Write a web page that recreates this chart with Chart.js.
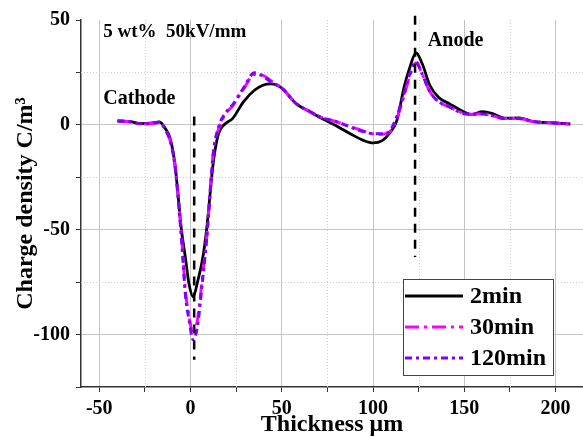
<!DOCTYPE html>
<html>
<head>
<meta charset="utf-8">
<script src="https://cdn.jsdelivr.net/npm/chart.js@4/dist/chart.umd.min.js"></script>
<style>
  html, body { margin: 0; padding: 0; background: #fff; }
  #wrap { width: 583px; height: 437px; position: relative; }
</style>
</head>
<body>
<div id="wrap"><canvas id="myChart"></canvas></div>
<script>
// thickness (um)
const thickness = [-40, -33, -27, -22, -17, -14, -11, -8.5, -5, -2.7, -1, 1.5, 3.8, 6.6, 8.8, 12.6, 15.4, 19, 23, 29, 35, 40, 44, 50, 58, 65, 72, 80, 88, 95, 100, 105, 109, 113, 117, 120, 123.5, 127, 131, 136, 142, 148, 154, 160, 165, 172, 180, 188, 198, 208];

const min2 = [1.8, 1.5, 0.6, 0.8, 1.4, -1.5, -7, -19, -50, -64, -75, -82, -75, -64, -50, -17, -4, 0.5, 3, 11, 16.5, 19, 19.5, 17.5, 10, 6.5, 3, -0.5, -4.5, -7.5, -8.6, -7.5, -4, 2, 18, 27, 34.3, 29, 19, 13, 10, 7, 5, 6.3, 5.5, 3.2, 3.3, 1.5, 1, 0.4];

const min30 = [2, 1.4, 0.4, 0.6, 1.2, -2, -8, -19, -52, -80, -90, -100, -93, -72, -54, -12, -2, 5, 9, 17, 24, 23.5, 21, 17.5, 10, 6.5, 3.5, 1.5, -1, -3, -4.3, -4.5, -3.5, 3, 14, 23, 29.5, 24, 16, 11, 8.5, 6, 5, 5.3, 4.5, 3, 3, 1.5, 1, 0.3];

const min120 = [2, 1.5, 0.5, 0.6, 1.2, -2, -8, -20, -54, -82, -92, -102.5, -96, -74, -55, -13, -1, 5.5, 9.5, 17.5, 24.8, 23, 20.5, 17.5, 10, 6.5, 3.5, 1.5, -1.2, -3.3, -4.2, -4.2, -3, 4, 15, 24, 30, 24, 16, 11, 8.5, 5.8, 5, 5.2, 4.5, 3, 3, 1.5, 1, 0.4];

const xTicks = [-50, -25, 0, 25, 50, 75, 100, 125, 150, 175, 200];
const yTicks = [-125, -100, -75, -50, -25, 0, 25, 50];

// electrode markers: [x, yFrom, yTo]
const electrodes = [[2, 4, -112], [123, 52, -63]];

const serif = "'Liberation Serif', 'Times New Roman', serif";

function pts(ys) {
  return thickness.map((x, i) => ({ x: x, y: ys[i] }));
}

const extras = {
  id: "extras",
  beforeDatasetsDraw(chart) {
    // dotted minor grid
    const { ctx, chartArea: a, scales: { x, y } } = chart;
    ctx.save();
    ctx.strokeStyle = "#cfcfcf";
    ctx.lineWidth = 1;
    ctx.setLineDash([1, 2]);
    xTicks.filter((v) => v % 50 !== 0).forEach((v) => {
      const px = Math.round(x.getPixelForValue(v)) + 0.5;
      ctx.beginPath(); ctx.moveTo(px, a.top); ctx.lineTo(px, a.bottom); ctx.stroke();
    });
    yTicks.filter((v) => v % 50 !== 0 && v > -125).forEach((v) => {
      const py = Math.round(y.getPixelForValue(v)) + 0.5;
      ctx.beginPath(); ctx.moveTo(a.left, py); ctx.lineTo(a.right, py); ctx.stroke();
    });
    ctx.restore();
  },
  afterDatasetsDraw(chart) {
    const { ctx, chartArea: a, scales: { x, y } } = chart;
    ctx.save();
    // electrode dashed lines
    ctx.strokeStyle = "#000";
    ctx.lineWidth = 2.5;
    ctx.setLineDash([9, 7]);
    electrodes.forEach((e) => {
      const px = x.getPixelForValue(e[0]);
      ctx.beginPath();
      ctx.moveTo(px, y.getPixelForValue(e[1]));
      ctx.lineTo(px, y.getPixelForValue(e[2]));
      ctx.stroke();
    });
    ctx.setLineDash([]);

    // texts
    ctx.fillStyle = "#000";
    ctx.textBaseline = "middle";
    ctx.textAlign = "left";
    ctx.font = "bold 19px " + serif;
    ctx.fillText("5 wt%  50kV/mm", x.getPixelForValue(-47.8), y.getPixelForValue(44));
    ctx.font = "bold 20px " + serif;
    ctx.fillText("Cathode", x.getPixelForValue(-47.8), y.getPixelForValue(12.5));
    ctx.fillText("Anode", x.getPixelForValue(130), y.getPixelForValue(40.2));

    // legend box
    const bx = a.right - 180, by = 279, bw = 150, bh = 96;
    ctx.fillStyle = "#fff";
    ctx.fillRect(bx, by, bw, bh);
    ctx.strokeStyle = "#444";
    ctx.lineWidth = 1;
    ctx.strokeRect(bx + 0.5, by + 0.5, bw, bh);
    ctx.font = "bold 24px " + serif;
    chart.data.datasets.forEach((ds, i) => {
      const ly = by + 17 + i * 31;
      ctx.strokeStyle = ds.borderColor;
      ctx.lineWidth = 3;
      ctx.setLineDash(ds.borderDash || []);
      ctx.beginPath();
      ctx.moveTo(bx + 2, ly);
      ctx.lineTo(bx + 60, ly);
      ctx.stroke();
      ctx.setLineDash([]);
      ctx.fillStyle = "#000";
      ctx.fillText(ds.label, bx + 67, ly + 1);
    });
    ctx.restore();
  },
};

const ctx1 = document.getElementById("myChart").getContext("2d");

const myChart = new Chart(ctx1, {
  type: "line",
  data: {
    datasets: [
      {
        label: "2min",
        data: pts(min2),
        borderColor: "#000000",
        borderWidth: 2.8,
        order: 3,
      },
      {
        label: "30min",
        data: pts(min30),
        borderColor: "#ff00ff",
        borderWidth: 3,
        borderDash: [14, 5, 3, 5],
        order: 2,
      },
      {
        label: "120min",
        data: pts(min120),
        borderColor: "#7f00ff",
        borderWidth: 3,
        borderDash: [7, 4, 3, 4],
        order: 1,
      },
    ],
  },
  options: {
    responsive: true,
    maintainAspectRatio: false,
    animation: false,
    layout: { padding: { top: 20, right: 0, bottom: 0, left: 0 } },
    elements: {
      point: { radius: 0 },
      line: { cubicInterpolationMode: "monotone", fill: false },
    },
    plugins: {
      legend: { display: false },
      tooltip: { enabled: false },
    },
    scales: {
      x: {
        type: "linear",
        min: -60,
        max: 215,
        afterBuildTicks: (s) => { s.ticks = xTicks.map((v) => ({ value: v })); },
        afterFit: (s) => { s.height = 50; },
        grid: {
          color: (c) => (c.tick && c.tick.value % 50 === 0 ? "#c4c4c4" : "rgba(0,0,0,0)"),
          tickColor: "#333",
          tickLength: 5,
          lineWidth: 1,
        },
        border: { color: "#333", width: 1.5 },
        ticks: {
          color: "#000",
          padding: 5,
          font: { family: serif, size: 20, weight: "bold" },
          callback: (v) => (v % 50 === 0 ? v : ""),
        },
        title: {
          display: true,
          text: "Thickness μm",
          color: "#000",
          font: { family: serif, size: 24, weight: "bold", lineHeight: 1 },
          padding: { top: 0, bottom: 0 },
        },
      },
      y: {
        min: -125,
        max: 50,
        afterBuildTicks: (s) => { s.ticks = yTicks.map((v) => ({ value: v })); },
        afterFit: (s) => { s.width = 81; },
        grid: {
          color: (c) => (c.tick && c.tick.value % 50 === 0 && c.tick.value !== 50 ? "#c4c4c4" : "rgba(0,0,0,0)"),
          tickColor: "#333",
          tickLength: 5,
          lineWidth: 1,
        },
        border: { color: "#333", width: 1.5 },
        ticks: {
          color: "#000",
          padding: 6,
          font: { family: serif, size: 20, weight: "bold" },
          callback: (v) => (v % 50 === 0 ? v : ""),
        },
        title: {
          display: true,
          text: "Charge density C/m³",
          color: "#000",
          font: { family: serif, size: 24, weight: "bold", lineHeight: 1 },
          padding: { top: 14, bottom: 0 },
        },
      },
    },
  },
  plugins: [extras],
});
</script>
</body>
</html>
